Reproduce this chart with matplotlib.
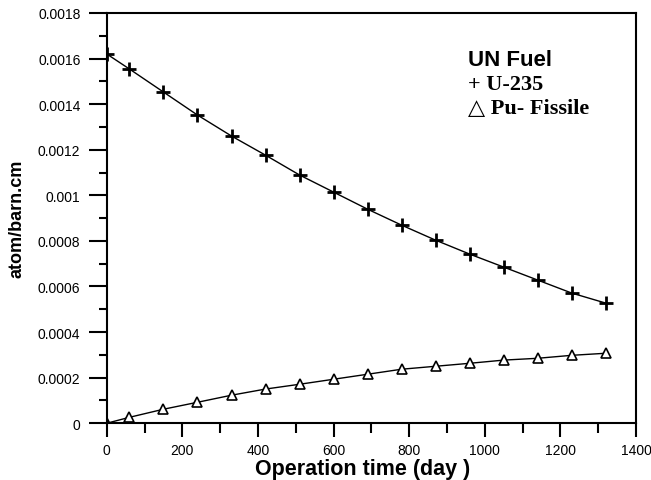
import matplotlib
matplotlib.use("Agg")
import matplotlib.pyplot as plt
from matplotlib.ticker import MultipleLocator, FuncFormatter

plt.rcParams['font.family'] = ['Liberation Sans', 'DejaVu Sans']

# operation time (day)
days = [0, 60, 150, 240, 330, 420, 510, 600, 690, 780, 870, 960, 1050, 1140, 1230, 1320]

# atom/barn.cm
u235 = [0.001620, 0.001554, 0.001453, 0.001352, 0.001260, 0.001176, 0.001089, 0.001014,
        0.000939, 0.000869, 0.000803, 0.000742, 0.000685, 0.000628, 0.000571, 0.000527]
pu_fissile = [0.0, 0.000026, 0.0000615, 0.000092, 0.000123, 0.000150, 0.000171, 0.000193,
              0.000215, 0.000237, 0.000250, 0.000263, 0.000277, 0.000285, 0.000298, 0.000307]

fig = plt.figure(figsize=(6.51, 4.81), dpi=100)
ax = fig.add_axes([0.164, 0.118, 0.813, 0.853])

ax.plot(days, u235, color='black', lw=1.0, marker='+', ms=10, mew=2.0)
ax.plot(days, pu_fissile, color='black', lw=1.0, marker='^', ms=7.5, mew=1.2,
        mfc='white', mec='black')

ax.set_xlim(0, 1400)
ax.set_ylim(0, 0.0018)
ax.xaxis.set_major_locator(MultipleLocator(200))
ax.xaxis.set_minor_locator(MultipleLocator(100))
ax.yaxis.set_major_locator(MultipleLocator(0.0002))
ax.yaxis.set_minor_locator(MultipleLocator(0.0001))
ax.yaxis.set_major_formatter(FuncFormatter(lambda v, p: '0' if abs(v) < 1e-12 else f'{v:.4f}'.rstrip('0')))

ax.tick_params(which='both', direction='out', width=1.5, top=False, right=False)
ax.tick_params(axis='y', which='major', length=13, labelsize=10, pad=6)
ax.tick_params(axis='y', which='minor', length=6)
ax.tick_params(axis='x', which='major', length=10, labelsize=10, pad=4)
ax.tick_params(axis='x', which='minor', length=7)
for s in ax.spines.values():
    s.set_linewidth(1.5)

ax.set_xlabel('Operation time (day )', fontsize=15.5, fontweight='bold')
ax.xaxis.set_label_coords(0.484, -0.085)
ax.set_ylabel('atom/barn.cm', fontsize=13, fontweight='bold')
ax.yaxis.set_label_coords(-0.153, 0.5)

ax.text(0.682, 0.873, 'UN Fuel', transform=ax.transAxes, fontsize=16, fontweight='bold',
        va='baseline')
ax.text(0.682, 0.8146, '+ U-235', transform=ax.transAxes, fontsize=16, fontweight='bold',
        va='baseline', family=['Liberation Serif', 'DejaVu Serif'])
ax.text(0.682, 0.756, '\u25b3 Pu- Fissile', transform=ax.transAxes, fontsize=16, fontweight='bold',
        va='baseline', family=['Liberation Serif', 'DejaVu Serif'])

fig.savefig('out.png', dpi=100)
